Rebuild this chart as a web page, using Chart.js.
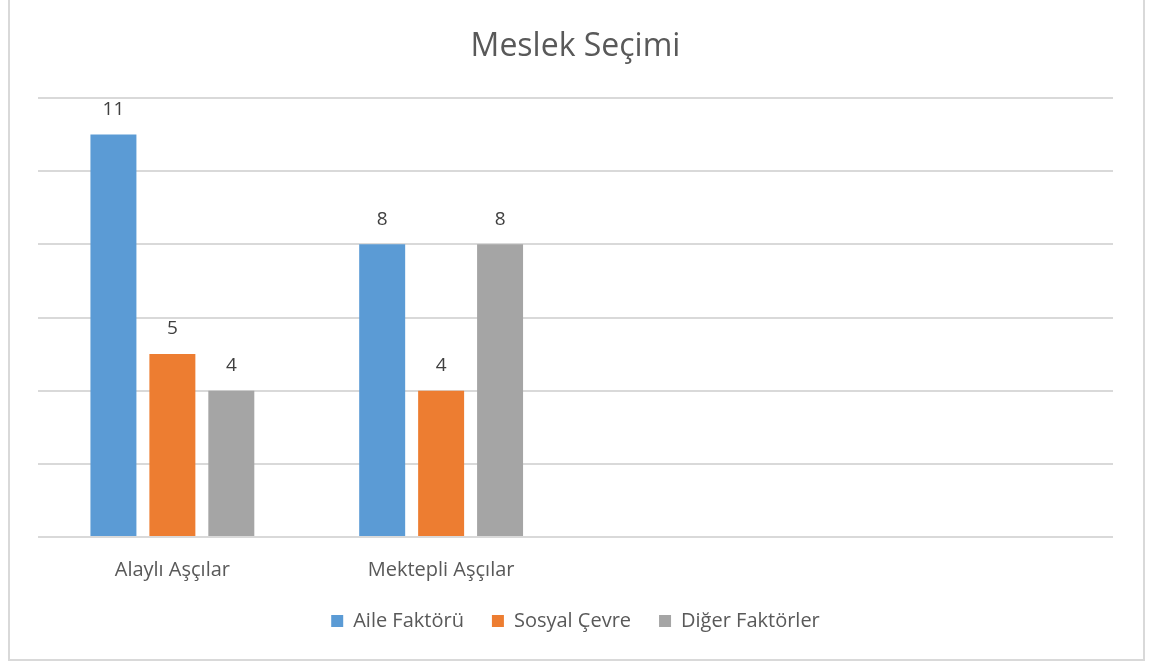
<!DOCTYPE html>
<html><head><meta charset="utf-8">
<script src="https://cdn.jsdelivr.net/npm/chart.js@4"></script>
<style>
html,body{margin:0;padding:0;background:#fff;overflow:hidden;}
#frame{position:absolute;left:8px;top:-2px;width:1133px;height:659px;border:2px solid #d9d9d9;}
#wrap{position:absolute;left:0;top:0;width:1152px;height:664px;}
</style></head>
<body>
<div id="frame"></div>
<div id="wrap"><canvas id="c" width="1152" height="664"></canvas></div>
<script>
const categories = ['Alaylı Aşçılar', 'Mektepli Aşçılar', '', ''];
const aileFaktoru = [11, 8, null, null];
const sosyalCevre = [5, 4, null, null];
const digerFaktorler = [4, 8, null, null];
const seriesNames = ['Aile Faktörü', 'Sosyal Çevre', 'Diğer Faktörler'];
const seriesColors = ['#5b9bd5', '#ed7d31', '#a5a5a5'];
const yMax = 12, yStep = 2;

const FONT = '"Open Sans", sans-serif';
const TXT = '#595959';

const dataLabels = {
  id: 'dataLabels',
  afterDatasetsDraw(chart) {
    const ctx = chart.ctx;
    ctx.save();
    ctx.font = '19px ' + FONT;
    ctx.fillStyle = '#404040';
    ctx.textAlign = 'center';
    ctx.textBaseline = 'middle';
    chart.data.datasets.forEach((ds, i) => {
      chart.getDatasetMeta(i).data.forEach((bar, j) => {
        const v = ds.data[j];
        if (v === null || v === undefined) return;
        ctx.fillText(String(v), bar.x, bar.y - 25);
      });
    });
    ctx.restore();
  }
};

new Chart(document.getElementById('c'), {
  type: 'bar',
  data: {
    labels: categories,
    datasets: [
      { label: seriesNames[0], data: aileFaktoru, backgroundColor: seriesColors[0] },
      { label: seriesNames[1], data: sosyalCevre, backgroundColor: seriesColors[1] },
      { label: seriesNames[2], data: digerFaktorler, backgroundColor: seriesColors[2] }
    ]
  },
  options: {
    responsive: false,
    animation: false,
    layout: { padding: { left: 38, right: 39, top: 0, bottom: 23 } },
    datasets: { bar: { categoryPercentage: 0.658, barPercentage: 0.78 } },
    plugins: {
      title: {
        display: true, text: 'Meslek Seçimi', color: TXT,
        font: { family: FONT, size: 32, weight: 'normal' },
        padding: { top: 28, bottom: 31.6 }
      },
      legend: {
        position: 'bottom',
        labels: {
          color: TXT, font: { family: FONT, size: 20 },
          boxWidth: 12, boxHeight: 12, padding: 28
        }
      },
      tooltip: { enabled: false }
    },
    scales: {
      x: {
        grid: { display: false, drawTicks: false },
        border: { display: false },
        ticks: { color: TXT, font: { family: FONT, size: 20 }, padding: 21 },
        afterFit(scale) { scale.height = 46; }
      },
      y: {
        min: 0, max: yMax,
        ticks: { display: false, stepSize: yStep },
        grid: { color: '#d9d9d9', lineWidth: 2, drawTicks: false },
        border: { display: false }
      }
    }
  },
  plugins: [dataLabels]
});
</script>
</body></html>
